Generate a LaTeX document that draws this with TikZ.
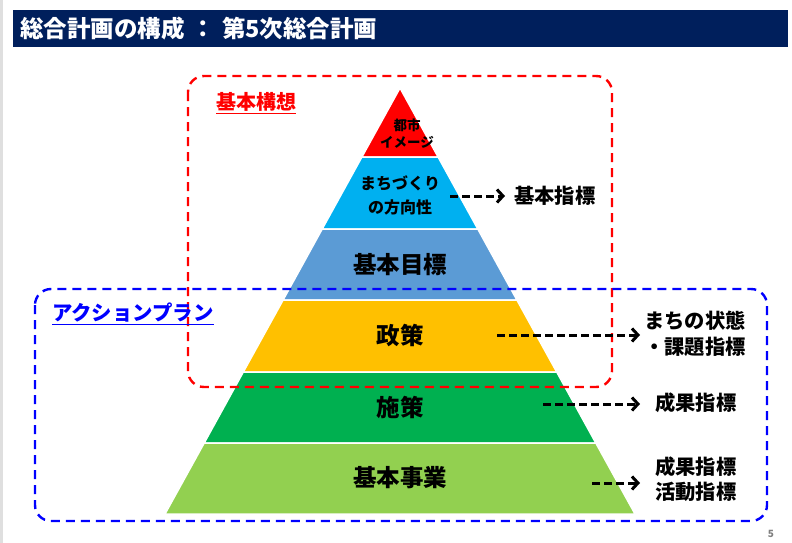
\documentclass[tikz,border=0pt]{standalone}
\usepackage{fontspec}
\setmainfont{Noto Sans CJK JP}
\usetikzlibrary{arrows.meta}
\definecolor{titlebg}{HTML}{001F5C}
\definecolor{lyred}{HTML}{FF0000}
\definecolor{lycyan}{HTML}{00B0F0}
\definecolor{lyblue}{HTML}{5B9BD5}
\definecolor{lyyell}{HTML}{FFC000}
\definecolor{lygreen}{HTML}{00B050}
\definecolor{lylime}{HTML}{92D050}
\newcommand*{\fbig}{\bfseries\fontsize{23.5}{27}\selectfont}
\newcommand*{\fmid}{\bfseries\fontsize{20.3}{25.5}\selectfont}

\begin{document}
\begin{tikzpicture}[x=1pt, y=-1pt,
    layer/.style = {draw=white, line width=1.5pt},
    lbl/.style   = {text=black, align=center, inner sep=0pt},
    ind/.style   = {text=black, align=left, anchor=west, inner ysep=0pt, font=\fmid},
    darr/.style  = {draw=black, line width=3pt, dash pattern=on 8pt off 4pt, -{Straight Barb[length=6pt,width=13pt]}},
    frame/.style = {line width=2.4pt, dash pattern=on 9pt off 6pt, rounded corners=16pt}]
    \useasboundingbox (0,0) rectangle (792,543);
    \fill [gray!25] (0,0) rectangle (3,543);
    % title bar
    \fill [titlebg] (13,10) rectangle (788,47);
    \node [anchor=west, text=white, inner sep=0pt, font=\fbig] (title) at (20,28.5) {総合計画の構成\hspace{7pt}：\hspace{7pt}第5次総合計画};
    % pyramid
    \path [layer, fill=lyred  ] (400,88) -- (438.1,157) -- (361.9,157) -- cycle;
    \path [layer, fill=lycyan ] (361.9,157) -- (438.1,157) -- (477.8,229) -- (322.2,229) -- cycle;
    \path [layer, fill=lyblue ] (322.2,229) -- (477.8,229) -- (516.9,300) -- (283.1,300) -- cycle;
    \path [layer, fill=lyyell ] (283.1,300) -- (516.9,300) -- (556.7,372) -- (243.3,372) -- cycle;
    \path [layer, fill=lygreen] (243.3,372) -- (556.7,372) -- (595.8,443) -- (204.2,443) -- cycle;
    \path [layer, fill=lylime ] (204.2,443) -- (595.8,443) -- (635,514) -- (165,514) -- cycle;
    \node [lbl, font=\bfseries\fontsize{13.5}{17}\selectfont] (tosi) at (407,134) {都市\\イメージ};
    \node [lbl, font=\bfseries\fontsize{16}{24}\selectfont] (mati) at (400,195) {まちづくり\\の方向性};
    \node [lbl, font=\fbig] (mokh) at (400,265) {基本目標};
    \node [lbl, font=\fbig] (seis) at (400,335) {政策};
    \node [lbl, font=\fbig] (sisa) at (400,407) {施策};
    \node [lbl, font=\fbig] (jigy) at (400,478) {基本事業};
    % frames
    \draw [frame, red ] (188,76) rectangle (612,387);
    \draw [frame, blue] (35,289) rectangle (767,521);
    \node [anchor=west, inner sep=0pt, text=red,  font=\bfseries\fontsize{20}{24}\selectfont] (kkou) at (216,103) {\underline{基本構想}};
    \node [anchor=west, inner sep=0pt, text=blue, font=\bfseries\fontsize{20.4}{24}\selectfont] (plan) at (52,314) {\underline{アクションプラン}};
    % indicators
    \node [ind, inner xsep=9pt ] (kshi) at (505,196) {基本指標};
    \node [ind, inner xsep=4pt ] (joti) at (640,334) {まちの状態\\・課題指標};
    \node [ind, inner xsep=15pt] (seik) at (640,403) {成果指標};
    \node [ind, inner xsep=15pt] (katu) at (640,479) {成果指標\\活動指標};
    \coordinate (s2) at (450,196);
    \coordinate (s4) at (497,335);
    \coordinate (s5) at (543,404);
    \coordinate (s6) at (592,483);
    \draw [darr] (s2) -- (s2 -| kshi.west);
    \draw [darr] (s4) -- (s4 -| joti.west);
    \draw [darr] (s5) -- (s5 -| seik.west);
    \draw [darr] (s6) -- (s6 -| katu.west);
    \node [text=gray, font=\bfseries\fontsize{10}{12}\selectfont] (page) at (771,534) {5};
\end{tikzpicture}
\end{document}
